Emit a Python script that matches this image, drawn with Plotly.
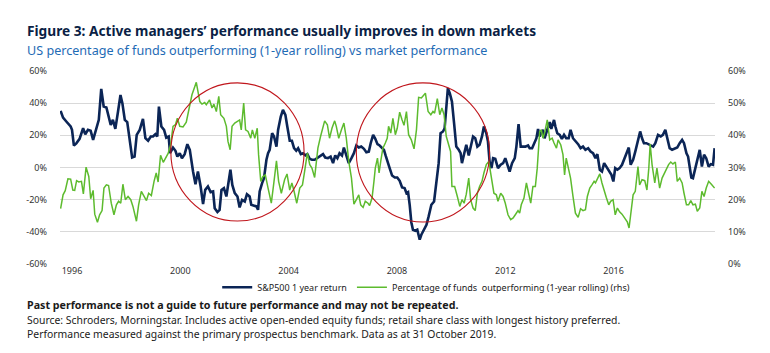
import plotly.graph_objects as go

# ---------------- data ----------------
# x values are decimal years; S&P500 1-year return (%, left axis)
sp_years = [
    1995.58, 1995.67, 1995.79, 1995.95, 1996.00, 1996.07, 1996.16, 1996.28, 1996.41, 1996.49,
    1996.59, 1996.69, 1996.78, 1996.90, 1996.99, 1997.08, 1997.17, 1997.27, 1997.33, 1997.43,
    1997.51, 1997.60, 1997.70, 1997.79, 1997.86, 1997.95, 1998.04, 1998.13, 1998.22, 1998.31,
    1998.39, 1998.50, 1998.62, 1998.71, 1998.81, 1998.91, 1998.99, 1999.08, 1999.15, 1999.21,
    1999.30, 1999.40, 1999.48, 1999.57, 1999.62, 1999.73, 1999.82, 1999.89, 1999.98, 2000.06,
    2000.16, 2000.26, 2000.35,
    2000.47, 2000.56, 2000.65, 2000.75, 2000.84, 2000.92,
    2001.02, 2001.12, 2001.21, 2001.27, 2001.37, 2001.45, 2001.52, 2001.61, 2001.70, 2001.76, 2001.85, 2001.92,
    2002.01, 2002.11, 2002.19, 2002.28, 2002.38, 2002.46, 2002.56, 2002.62, 2002.72, 2002.81, 2002.87, 2002.93,
    2003.02, 2003.09, 2003.18, 2003.24, 2003.30, 2003.39, 2003.46, 2003.55, 2003.61, 2003.71, 2003.79, 2003.88, 2003.95,
    2004.04, 2004.12, 2004.20, 2004.28, 2004.35, 2004.45, 2004.53, 2004.62, 2004.69, 2004.78, 2004.86, 2004.96,
    2005.08, 2005.18, 2005.27, 2005.35, 2005.45, 2005.55, 2005.64, 2005.72, 2005.80, 2005.88, 2005.97,
    2006.04, 2006.13, 2006.22, 2006.32, 2006.41, 2006.50, 2006.59, 2006.68, 2006.78, 2006.87, 2006.96,
    2007.03, 2007.12, 2007.20, 2007.28, 2007.36, 2007.45, 2007.52, 2007.58, 2007.67, 2007.73, 2007.82, 2007.92,
    2008.01, 2008.10, 2008.19, 2008.28, 2008.35, 2008.41, 2008.47, 2008.53, 2008.59, 2008.68, 2008.75, 2008.84, 2008.90,
    2009.00, 2009.09, 2009.17, 2009.27, 2009.37, 2009.45, 2009.54, 2009.61, 2009.70, 2009.76, 2009.82, 2009.88, 2009.95,
    2010.03,
    2010.11, 2010.19, 2010.28, 2010.35, 2010.40, 2010.48, 2010.56, 2010.65, 2010.72, 2010.81, 2010.89, 2010.97,
    2011.05, 2011.14, 2011.21, 2011.30, 2011.36, 2011.42, 2011.49, 2011.55, 2011.63, 2011.73, 2011.83, 2011.92,
    2012.00, 2012.08, 2012.16, 2012.25, 2012.35, 2012.41, 2012.49, 2012.57, 2012.65, 2012.74, 2012.84, 2012.90, 2012.99,
    2013.06, 2013.15, 2013.21, 2013.27, 2013.33, 2013.39, 2013.45, 2013.55, 2013.64, 2013.70, 2013.80, 2013.85, 2013.92,
    2014.01, 2014.09, 2014.17, 2014.25, 2014.34, 2014.41, 2014.50, 2014.56,
    2014.69, 2014.78, 2014.87, 2014.96,
    2015.06, 2015.15, 2015.24, 2015.33, 2015.40, 2015.49, 2015.57, 2015.65, 2015.73, 2015.82, 2015.92, 2015.99,
    2016.06, 2016.14, 2016.22, 2016.31, 2016.41, 2016.48, 2016.56, 2016.63, 2016.72, 2016.80, 2016.90, 2016.98,
    2017.05, 2017.12, 2017.21, 2017.30, 2017.37, 2017.46, 2017.54, 2017.64, 2017.74, 2017.82, 2017.91, 2017.98,
    2018.07, 2018.16, 2018.26, 2018.35, 2018.44, 2018.53, 2018.60, 2018.69, 2018.75, 2018.81, 2018.87, 2018.93,
    2019.02, 2019.09, 2019.18, 2019.26, 2019.34, 2019.42, 2019.51, 2019.59, 2019.67, 2019.73,
]
sp_return = [
    35.2, 31, 28.6, 25.5, 23.4, 13.7, 15, 17.8, 24.4, 20.7,
    23.4, 22.8, 17.2, 24.4, 29.6, 48.9, 37.9, 37.3, 32.7, 26.5,
    29.6, 24, 34.8, 45.1, 40, 29.6, 28.2, 18.2, 6.2, 6.8,
    20.3, 23.4, 30.2, 18.2, 16.6, 19.3, 19.3, 20.7, 19.3, 37.9,
    25.5, 23.4, 18.6, 19.3, 8.9, 12.4, 10.4, 6.8, 8.9, 5.8,
    8.3, 14.5, 11,
    -2.5, -10.4, -2.5, -11.8, -22.8, -13.9,
    -11.8, -15.3, -14.9, -25.3, -27.7, -26.3, -13.9, -12.8, -18, -10.8, -1.4, -10.8,
    -15.9, -18, -24.8, -20.1, -21.1, -16.6, -18, -23.2, -23.6, -24.2, -26.3, -14.9,
    -9.7, -6.6, 4.8, 8.9, 11, 21.3, 19.3, 13, 23.4, 31.7, 35.8, 32.7, 25.5,
    16.6, 16.6, 12, 10.4, 12, 8.3, 8.9, 7.5, 8.3, 5.4, 4.8, 4.8,
    6.2, 7.5, 8.3, 6.2, 5.8, 6.8, 2.7, 7.5, 5.8, 8.9, 7.5,
    12.4, 6.8, 2.7, 5.8, 8.9, 13.7, 12.4, 13, 11.6, 9.5, 9.9,
    15.1, 20.3, 17.8, 14.5, 13.7, 12.4, 11, 7.5, 1.7, -0.4, -5, -6.2,
    -6.2, -8.3, -12.4, -12.8, -15.9, -15.3, -23.2, -34, -38.7, -39.3, -38.7, -44.9, -41.8,
    -38.7, -35.6, -30.4, -23.2, -21.1, -10.8, 2.7, 21.3, 22.4, 24.4, 35.8, 49.3, 46.2,
    41,
    27.5, 13, 11, 8.9, 2.7, 8.9, 14.1, 7.5, 12, 19.3, 18.2, 13,
    14.1, 19.3, 25.5, 21.3, 16.1, 3.7, -0.4, 5.8, 5.4, -0.4, 1.7, 2.7,
    5.8, 1.7, -2.5, 2.7, 5.8, 13, 26.9, 13, 13, 13, 13.7, 12, 12,
    15.1, 18.2, 24, 19.3, 21.9, 23.4, 18.2, 23.4, 28.2, 24, 29.6, 25.5, 21.3,
    20.3, 17.8, 20.3, 18.2, 18.2, 23.4, 18.2, 17.2,
    14.5, 12, 13, 11,
    12, 9.9, 8.9, 5.8, 8.3, -1.4, -2.5, 2.7, 0.6, -1.4, -4.6, -8.7,
    -0.4, -1.4, -0.4, 1.7, 5.8, 7.9, 12.4, 1.7, 4.8, 9.9, 16.1, 22.4,
    18.2, 15.1, 15.1, 14.5, 14.1, 13, 15.1, 20.3, 19.3, 20.3, 23.4, 18.2,
    12, 11, 12, 12.4, 15.1, 17.2, 15.1, 8.9, 6.8, 0.6, -6.2, -6.6,
    -0.4, 5.4, 11, 0.6, 7.9, 5.8, 0.6, 2.1, 1.7, 12,
]

# Percentage of funds outperforming (1-year rolling), % (right axis)
fund_years = [
    1995.58, 1995.67, 1995.75, 1995.85, 1995.95,
    1996.03, 1996.10, 1996.17, 1996.25, 1996.35, 1996.42, 1996.52, 1996.62, 1996.69, 1996.78, 1996.84, 1996.94,
    1997.02, 1997.11, 1997.18, 1997.27, 1997.35, 1997.45, 1997.55, 1997.64, 1997.72, 1997.80, 1997.88, 1997.97,
    1998.07, 1998.17, 1998.25, 1998.38, 1998.46, 1998.56, 1998.66, 1998.75, 1998.83, 1998.93,
    1999.03, 1999.11, 1999.18, 1999.27, 1999.37, 1999.45, 1999.55, 1999.64, 1999.73, 1999.82, 1999.89, 1999.98,
    2000.10, 2000.22, 2000.35,
    2000.43, 2000.59, 2000.72, 2000.80, 2000.90, 2000.96,
    2001.08, 2001.17, 2001.24, 2001.33, 2001.42, 2001.49, 2001.61, 2001.70, 2001.76, 2001.84, 2001.91,
    2002.01, 2002.13, 2002.19, 2002.25, 2002.34, 2002.41, 2002.50, 2002.60, 2002.66, 2002.75, 2002.84, 2002.89, 2002.97,
    2003.05, 2003.14, 2003.24, 2003.36, 2003.46, 2003.55, 2003.63, 2003.73, 2003.85, 2003.94,
    2004.04, 2004.12, 2004.20, 2004.30, 2004.41, 2004.51, 2004.59, 2004.69, 2004.78, 2004.86, 2004.96,
    2005.08, 2005.18, 2005.27, 2005.33, 2005.43, 2005.51, 2005.60, 2005.70, 2005.76, 2005.85, 2005.95,
    2006.04, 2006.13, 2006.22, 2006.32, 2006.41, 2006.50, 2006.59, 2006.66, 2006.75, 2006.83, 2006.93, 2006.99,
    2007.08, 2007.15, 2007.20, 2007.28, 2007.34, 2007.40, 2007.48, 2007.57, 2007.64, 2007.69, 2007.77, 2007.85, 2007.94,
    2008.01, 2008.10, 2008.19, 2008.26, 2008.35, 2008.43, 2008.53, 2008.63, 2008.72, 2008.80, 2008.90, 2008.96,
    2009.05, 2009.15, 2009.25, 2009.33, 2009.39, 2009.49, 2009.58, 2009.66, 2009.74, 2009.82,
    2009.98,
    2010.03, 2010.13, 2010.23, 2010.32, 2010.40, 2010.48, 2010.56, 2010.65, 2010.72, 2010.81, 2010.89, 2010.97,
    2011.05, 2011.14, 2011.21, 2011.30, 2011.39, 2011.49, 2011.58, 2011.67, 2011.73, 2011.83, 2011.92,
    2012.00, 2012.10, 2012.20, 2012.29, 2012.37, 2012.47, 2012.53, 2012.59, 2012.69, 2012.78, 2012.86, 2012.94,
    2013.02, 2013.11, 2013.18, 2013.27, 2013.33, 2013.39, 2013.45, 2013.55, 2013.64, 2013.73, 2013.80, 2013.89, 2013.95,
    2014.05, 2014.13, 2014.19, 2014.25, 2014.34, 2014.41, 2014.50, 2014.59,
    2014.69, 2014.78, 2014.87, 2014.96,
    2015.03, 2015.12, 2015.20, 2015.28, 2015.33, 2015.40, 2015.49, 2015.57, 2015.65, 2015.73, 2015.82, 2015.89, 2015.98,
    2016.06, 2016.14, 2016.22, 2016.31, 2016.41, 2016.51, 2016.57, 2016.63, 2016.72, 2016.80, 2016.90, 2016.96,
    2017.05, 2017.15, 2017.23, 2017.30, 2017.35, 2017.42, 2017.52, 2017.60, 2017.70, 2017.79, 2017.86, 2017.95,
    2018.03, 2018.11, 2018.19, 2018.28, 2018.35, 2018.44, 2018.53, 2018.60, 2018.69, 2018.77, 2018.85, 2018.93,
    2019.02, 2019.09, 2019.18, 2019.26, 2019.34, 2019.42, 2019.51, 2019.61, 2019.73,
]
fund_pct = [
    17.2, 21.5, 22.8, 26.5, 26.4,
    23, 22.9, 25.9, 25.5, 25.7, 21.8, 30.1, 27.2, 20.3, 22.9, 15.5, 13,
    15.3, 16.6, 23.6, 24.6, 24.4, 18.9, 15.3, 18.4, 19.5, 18.9, 24.8, 20,
    21, 20, 17.9, 13.3, 18.4, 22.6, 21, 19.7, 22, 21.3,
    25.7, 28.3, 25.5, 33.8, 31.6, 33.1, 34.4, 37, 42.8, 43.3, 45.3, 42.8,
    42.6, 44.1, 49.5,
    52.6, 56.5, 50.5, 49.7, 50.2, 49.5,
    51, 48.5, 49.7, 47.4, 52.1, 46.4, 45.3, 42.8, 38.1, 35.5, 42.8,
    43.8, 44.5, 44.8, 41.7, 50, 41.7, 41.2, 39.1, 41.7, 39.1, 42.2, 34, 25.7,
    27.2, 27.7, 23.6, 18.9, 25.7, 32.1, 25.7, 22, 26.2, 28,
    23, 25.2, 22.6, 18.9, 23.6, 24.6, 28.8, 34.5, 30.9, 29.8, 26.9,
    36, 39.7, 42.2, 44.5, 43.3, 39.1, 42.2, 44.5, 42.8, 39.1, 41.7,
    43.8, 39.1, 31.9, 26.7, 18.6, 20, 21.5, 18.4, 17.6, 19.5, 18.9, 18.2,
    20.5, 25.7, 29.8, 32.9, 28.3, 31.9, 36, 37.6, 39.1, 42.8, 40.7, 45.3, 40.2,
    42.2, 47.2, 44.8, 43.1, 47.4, 40.2, 38.6, 35.8, 41.7, 51.8, 51.6, 52.1,
    53.1, 47.4, 46.4, 47.4, 46.9, 51.4, 46.4, 48.5, 46.4, 39.7,
    35,
    24.1, 24.1, 21, 17.9, 20, 18.9, 21.7, 26.7, 20, 17.4, 16.6, 22,
    24.1, 25.7, 28.3, 30.9, 31.9, 26.2, 22, 21.5, 19.5, 22, 21,
    18.9, 15.3, 13.8, 14.3, 15.3, 16.6, 15.8, 18.4, 20.5, 25.2, 22, 18.9,
    24.1, 24.1, 29.8, 41.2, 41.7, 39.1, 40.7, 44.8, 38.6, 39.1, 37.6, 36, 38.6,
    37, 34, 27.7, 32.9, 29.3, 26.7, 21, 15.8,
    14.5, 17.2, 16.6, 16.9,
    21, 23.6, 24.6, 25.7, 25.2, 26.7, 28, 25.2, 22.6, 20.7, 18.4, 19.5, 20,
    15.3, 17.4, 16.2, 15.5, 14.1, 13, 11.2, 15.3, 21.5, 22.6, 30.3, 24.6,
    26.2, 25.9, 23, 29.8, 37.3, 30.9, 25.2, 29.8, 23.6, 26.7, 28, 29.3,
    30.9, 31.7, 31.1, 31.7, 25.7, 26.7, 25.2, 22, 18.4, 18.4, 19.7, 18.4,
    18.6, 16.4, 17.4, 22.6, 21, 23.6, 25.7, 24.8, 23.6,
]
assert len(sp_years) == len(sp_return)
assert len(fund_years) == len(fund_pct)

x_tick_years = [1996, 2000, 2004, 2008, 2012, 2016]
left_ticks = [-60, -40, -20, 0, 20, 40, 60]
right_ticks = [0, 10, 20, 30, 40, 50, 60]
x_range = [1995.557, 2019.744]

# highlight circles (decimal year / left-axis % extents)
circle_1 = dict(x0=1999.65, x1=2004.57, y0=-33.3, y1=52.6)
circle_2 = dict(x0=2006.50, x1=2011.42, y0=-33.9, y1=52.6)

NAVY = "#0b2556"
GREEN = "#5dbb2e"
FONT = "Noto Sans"

fig = go.Figure()
fig.add_trace(go.Scatter(
    x=sp_years, y=sp_return, mode="lines", name="S&P500 1 year return",
    line=dict(color=NAVY, width=2.6), yaxis="y",
))
fig.add_trace(go.Scatter(
    x=fund_years, y=fund_pct, mode="lines",
    name="Percentage of funds  outperforming (1-year rolling) (rhs)",
    line=dict(color=GREEN, width=1.5), yaxis="y2",
))

for c in (circle_1, circle_2):
    fig.add_shape(type="circle", xref="x", yref="y", line=dict(color="#c0161c", width=1.1),
                  layer="above", **c)

tick_font = dict(family=FONT, size=9, color="#333333")

fig.update_layout(
    width=770, height=353,
    margin=dict(l=60, r=55, t=71, b=89),
    paper_bgcolor="white", plot_bgcolor="white",
    font=dict(family=FONT, color="#222222"),
    showlegend=True,
    legend=dict(orientation="h", x=0.24, xanchor="left", y=-0.045, yanchor="top",
                font=dict(family=FONT, size=9, color="#222222"),
                bgcolor="rgba(0,0,0,0)", itemwidth=30, tracegroupgap=0),
    xaxis=dict(range=x_range, tickmode="array", tickvals=x_tick_years,
               ticktext=[str(y) for y in x_tick_years], showgrid=False, zeroline=False,
               showline=False, ticks="", tickfont=tick_font),
    yaxis=dict(range=[-60, 60], tickmode="array", tickvals=left_ticks,
               ticktext=[f"{v}%" for v in left_ticks], showgrid=True, gridcolor="#d9d9d9",
               gridwidth=1, zeroline=False, showline=False, ticks="", tickfont=tick_font,
               ticklabelstandoff=12),
    yaxis2=dict(range=[0, 60], overlaying="y", side="right", tickmode="array",
                tickvals=right_ticks, ticktext=[f"{v}%" for v in right_ticks],
                showgrid=False, zeroline=False, showline=False, ticks="", tickfont=tick_font,
                ticklabelstandoff=12),
)

def note(text, y, size, color="#1a1a1a", bold=False):
    fig.add_annotation(xref="paper", yref="paper", x=-35/655, y=y, xanchor="left",
                       yanchor="middle", showarrow=False, align="left",
                       text=f"<b>{text}</b>" if bold else text,
                       font=dict(family=FONT, size=size, color=color))

note("Figure 3: Active managers\u2019 performance usually improves in down markets",
     (264 - 31) / 193, 13.7, color="#0b1f45", bold=True)
note("US percentage of funds outperforming (1-year rolling) vs market performance",
     (264 - 50) / 193, 12.6, color="#1f6bb5")
note("Past performance is not a guide to future performance and may not be repeated.",
     (264 - 305) / 193, 10.7, bold=True)
note("Source: Schroders, Morningstar. Includes active open-ended equity funds; retail share class with longest history preferred.",
     (264 - 320) / 193, 10.4)
note("Performance measured against the primary prospectus benchmark. Data as at 31 October 2019.",
     (264 - 334) / 193, 10.4)

fig.write_html("out.html")
